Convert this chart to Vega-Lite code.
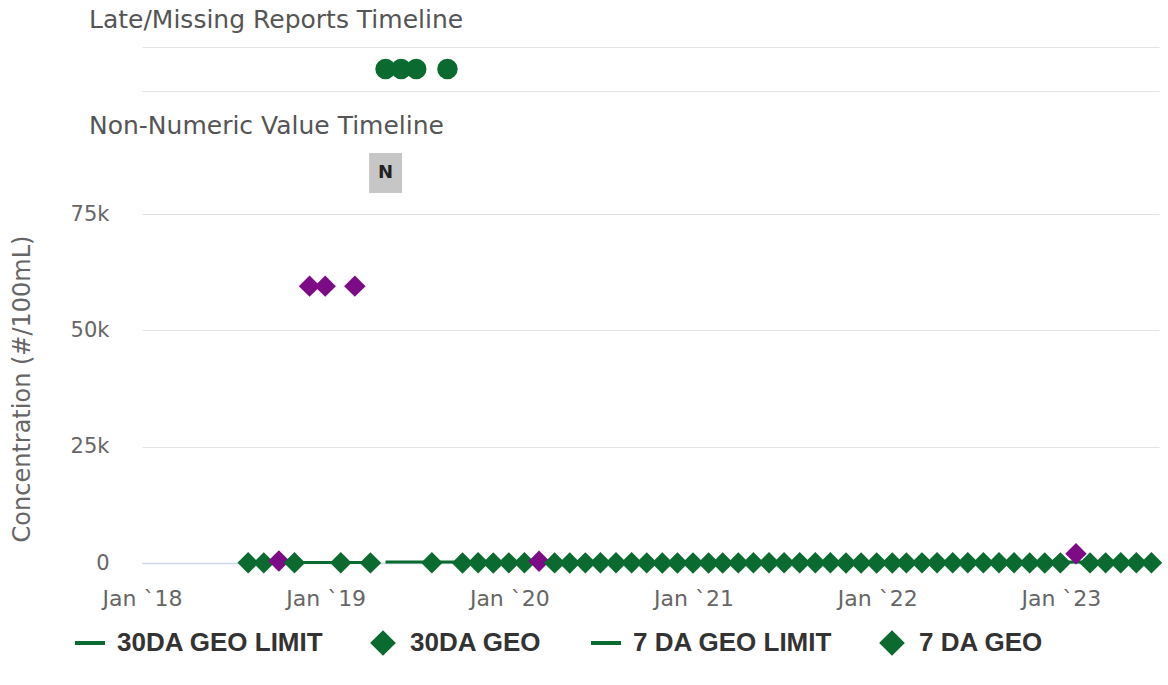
{
  "$schema": "https://vega.github.io/schema/vega-lite/v6.json",
  "padding": {"left": 10, "top": 8, "right": 5, "bottom": 5},
  "background": "white",
  "config": {
    "view": {"stroke": null},
    "font": "DejaVu Sans",
    "title": {"fontSize": 25, "fontWeight": "normal", "color": "#555555", "anchor": "start", "frame": "group", "dx": -53, "offset": 14}
  },
  "datasets": {
    "late": [
      {"date": "2019-04-30", "timeline": "Late/Missing"},
      {"date": "2019-05-31", "timeline": "Late/Missing"},
      {"date": "2019-06-30", "timeline": "Late/Missing"},
      {"date": "2019-08-31", "timeline": "Late/Missing"}
    ],
    "nonnum": [
      {"date": "2019-04-30", "timeline": "Non-Numeric", "code": "N"}
    ],
    "main": [
      {"date": "2018-07-31", "series": "30DA GEO LIMIT", "value": 126},
      {"date": "2018-08-31", "series": "30DA GEO LIMIT", "value": 126},
      {"date": "2018-09-30", "series": "30DA GEO LIMIT", "value": 126},
      {"date": "2018-10-31", "series": "30DA GEO LIMIT", "value": 126},
      {"date": "2018-11-30", "series": "30DA GEO LIMIT", "value": 126},
      {"date": "2018-12-31", "series": "30DA GEO LIMIT", "value": 126},
      {"date": "2019-01-31", "series": "30DA GEO LIMIT", "value": 126},
      {"date": "2019-02-28", "series": "30DA GEO LIMIT", "value": 126},
      {"date": "2019-03-31", "series": "30DA GEO LIMIT", "value": 126},
      {"date": "2019-04-30", "series": "7 DA GEO LIMIT", "value": 235},
      {"date": "2019-05-31", "series": "7 DA GEO LIMIT", "value": 235},
      {"date": "2019-06-30", "series": "7 DA GEO LIMIT", "value": 235},
      {"date": "2019-07-31", "series": "7 DA GEO LIMIT", "value": 235},
      {"date": "2019-08-31", "series": "7 DA GEO LIMIT", "value": 235},
      {"date": "2019-09-30", "series": "7 DA GEO LIMIT", "value": 235},
      {"date": "2019-12-31", "series": "7 DA GEO LIMIT", "value": 235},
      {"date": "2020-06-30", "series": "7 DA GEO LIMIT", "value": 235},
      {"date": "2020-12-31", "series": "7 DA GEO LIMIT", "value": 235},
      {"date": "2021-06-30", "series": "7 DA GEO LIMIT", "value": 235},
      {"date": "2021-12-31", "series": "7 DA GEO LIMIT", "value": 235},
      {"date": "2022-06-30", "series": "7 DA GEO LIMIT", "value": 235},
      {"date": "2022-12-31", "series": "7 DA GEO LIMIT", "value": 235},
      {"date": "2023-06-30", "series": "7 DA GEO LIMIT", "value": 235},
      {"date": "2018-07-31", "series": "30DA GEO", "value": 45, "exceed": false},
      {"date": "2018-08-31", "series": "30DA GEO", "value": 30, "exceed": false},
      {"date": "2018-09-30", "series": "30DA GEO", "value": 410, "exceed": true},
      {"date": "2018-10-31", "series": "30DA GEO", "value": 60, "exceed": false},
      {"date": "2018-11-30", "series": "30DA GEO", "value": 59500, "exceed": true},
      {"date": "2018-12-31", "series": "30DA GEO", "value": 59500, "exceed": true},
      {"date": "2019-01-31", "series": "30DA GEO", "value": 40, "exceed": false},
      {"date": "2019-02-28", "series": "30DA GEO", "value": 59500, "exceed": true},
      {"date": "2019-03-31", "series": "30DA GEO", "value": 25, "exceed": false},
      {"date": "2019-07-31", "series": "7 DA GEO", "value": 50, "exceed": false},
      {"date": "2019-09-30", "series": "7 DA GEO", "value": 20, "exceed": false},
      {"date": "2019-10-31", "series": "7 DA GEO", "value": 35, "exceed": false},
      {"date": "2019-11-30", "series": "7 DA GEO", "value": 15, "exceed": false},
      {"date": "2019-12-31", "series": "7 DA GEO", "value": 28, "exceed": false},
      {"date": "2020-01-31", "series": "7 DA GEO", "value": 40, "exceed": false},
      {"date": "2020-02-29", "series": "7 DA GEO", "value": 380, "exceed": true},
      {"date": "2020-03-31", "series": "7 DA GEO", "value": 22, "exceed": false},
      {"date": "2020-04-30", "series": "7 DA GEO", "value": 18, "exceed": false},
      {"date": "2020-05-31", "series": "7 DA GEO", "value": 30, "exceed": false},
      {"date": "2020-06-30", "series": "7 DA GEO", "value": 55, "exceed": false},
      {"date": "2020-07-31", "series": "7 DA GEO", "value": 60, "exceed": false},
      {"date": "2020-08-31", "series": "7 DA GEO", "value": 42, "exceed": false},
      {"date": "2020-09-30", "series": "7 DA GEO", "value": 25, "exceed": false},
      {"date": "2020-10-31", "series": "7 DA GEO", "value": 12, "exceed": false},
      {"date": "2020-11-30", "series": "7 DA GEO", "value": 10, "exceed": false},
      {"date": "2020-12-31", "series": "7 DA GEO", "value": 14, "exceed": false},
      {"date": "2021-01-31", "series": "7 DA GEO", "value": 20, "exceed": false},
      {"date": "2021-02-28", "series": "7 DA GEO", "value": 16, "exceed": false},
      {"date": "2021-03-31", "series": "7 DA GEO", "value": 24, "exceed": false},
      {"date": "2021-04-30", "series": "7 DA GEO", "value": 33, "exceed": false},
      {"date": "2021-05-31", "series": "7 DA GEO", "value": 48, "exceed": false},
      {"date": "2021-06-30", "series": "7 DA GEO", "value": 70, "exceed": false},
      {"date": "2021-07-31", "series": "7 DA GEO", "value": 65, "exceed": false},
      {"date": "2021-08-31", "series": "7 DA GEO", "value": 52, "exceed": false},
      {"date": "2021-09-30", "series": "7 DA GEO", "value": 38, "exceed": false},
      {"date": "2021-10-31", "series": "7 DA GEO", "value": 20, "exceed": false},
      {"date": "2021-11-30", "series": "7 DA GEO", "value": 15, "exceed": false},
      {"date": "2021-12-31", "series": "7 DA GEO", "value": 11, "exceed": false},
      {"date": "2022-01-31", "series": "7 DA GEO", "value": 18, "exceed": false},
      {"date": "2022-02-28", "series": "7 DA GEO", "value": 22, "exceed": false},
      {"date": "2022-03-31", "series": "7 DA GEO", "value": 27, "exceed": false},
      {"date": "2022-04-30", "series": "7 DA GEO", "value": 35, "exceed": false},
      {"date": "2022-05-31", "series": "7 DA GEO", "value": 44, "exceed": false},
      {"date": "2022-06-30", "series": "7 DA GEO", "value": 62, "exceed": false},
      {"date": "2022-07-31", "series": "7 DA GEO", "value": 75, "exceed": false},
      {"date": "2022-08-31", "series": "7 DA GEO", "value": 58, "exceed": false},
      {"date": "2022-09-30", "series": "7 DA GEO", "value": 40, "exceed": false},
      {"date": "2022-10-31", "series": "7 DA GEO", "value": 26, "exceed": false},
      {"date": "2022-11-30", "series": "7 DA GEO", "value": 19, "exceed": false},
      {"date": "2022-12-31", "series": "7 DA GEO", "value": 30, "exceed": false},
      {"date": "2023-01-31", "series": "7 DA GEO", "value": 2000, "exceed": true},
      {"date": "2023-02-28", "series": "7 DA GEO", "value": 24, "exceed": false},
      {"date": "2023-03-31", "series": "7 DA GEO", "value": 31, "exceed": false},
      {"date": "2023-04-30", "series": "7 DA GEO", "value": 46, "exceed": false},
      {"date": "2023-05-31", "series": "7 DA GEO", "value": 57, "exceed": false},
      {"date": "2023-06-30", "series": "7 DA GEO", "value": 68, "exceed": false}
    ]
  },
  "bounds": "flush",
  "spacing": 21,
  "vconcat": [
    {
      "width": 1017,
      "height": 85,
      "title": {"text": "Late/Missing Reports Timeline"},
      "data": {"name": "late"},
      "mark": {"type": "point", "shape": "circle", "filled": true, "size": 420, "color": "#0a6a30", "opacity": 1},
      "encoding": {
        "x": {"field": "date", "type": "temporal", "scale": {"domain": [{"year": 2018, "month": 1, "date": 1}, {"year": 2023, "month": 7, "date": 15}]}, "axis": null},
        "y": {"field": "timeline", "type": "nominal", "scale": {"type": "band", "paddingInner": 0, "paddingOuter": 0.466, "align": 0},
              "axis": {"title": null, "labels": false, "ticks": false, "domain": false, "grid": true, "tickBand": "extent", "gridColor": "#e3e3e3", "gridWidth": 1.2}}
      }
    },
    {
      "width": 1017,
      "height": 40,
      "title": {"text": "Non-Numeric Value Timeline"},
      "data": {"name": "nonnum"},
      "encoding": {
        "x": {"field": "date", "type": "temporal", "scale": {"domain": [{"year": 2018, "month": 1, "date": 1}, {"year": 2023, "month": 7, "date": 15}]}, "axis": null},
        "y": {"field": "timeline", "type": "nominal", "scale": {"type": "band", "paddingInner": 0, "paddingOuter": 0}, "axis": null}
      },
      "layer": [
        {"mark": {"type": "point", "shape": "M-0.825,-1H0.825V1H-0.825Z", "filled": true, "size": 1600, "color": "#c6c6c6", "opacity": 1}},
        {"mark": {"type": "text", "fontSize": 18, "fontWeight": "bold", "color": "#222222"}, "encoding": {"text": {"field": "code", "type": "nominal"}}}
      ]
    },
    {
      "width": 1017,
      "height": 349,
      "data": {"name": "main"},
      "encoding": {
        "x": {"field": "date", "type": "temporal",
              "scale": {"domain": [{"year": 2018, "month": 1, "date": 1}, {"year": 2023, "month": 7, "date": 15}]},
              "axis": {"title": null, "values": [{"year": 2018, "month": 1, "date": 1}, {"year": 2019, "month": 1, "date": 1}, {"year": 2020, "month": 1, "date": 1}, {"year": 2021, "month": 1, "date": 1}, {"year": 2022, "month": 1, "date": 1}, {"year": 2023, "month": 1, "date": 1}],
                       "format": "%b `%y", "labelFontSize": 22, "labelColor": "#666666", "labelPadding": 25, "labelFlush": false,
                       "ticks": false, "domain": true, "domainColor": "#ccd6eb", "domainWidth": 1.5, "grid": false}},
        "y": {"field": "value", "type": "quantitative", "scale": {"domain": [0, 75000], "nice": false},
              "axis": {"title": "Concentration (#/100mL)", "values": [0, 25000, 50000, 75000],
                       "labelExpr": "datum.value === 0 ? '0' : (datum.value / 1000) + 'k'",
                       "labelFontSize": 21, "labelColor": "#666666", "labelPadding": 33,
                       "titleFontSize": 24, "titleColor": "#666666", "titleFontWeight": "normal", "titlePadding": 36,
                       "ticks": false, "domain": false, "grid": true, "gridColor": "#e3e3e3", "gridWidth": 1.2}}
      },
      "layer": [
        {
          "transform": [{"filter": "indexof(datum.series, 'LIMIT') >= 0"}],
          "mark": {"type": "line", "strokeWidth": 3, "color": "#0a6a30"},
          "encoding": {"detail": {"field": "series", "type": "nominal"}}
        },
        {
          "transform": [{"filter": "indexof(datum.series, 'LIMIT') < 0"}],
          "mark": {"type": "point", "filled": true, "size": 460, "opacity": 1},
          "encoding": {
            "color": {"condition": {"test": "datum.exceed", "value": "#7d0b86"}, "field": "series", "type": "nominal",
                      "scale": {"domain": ["30DA GEO LIMIT", "30DA GEO", "7 DA GEO LIMIT", "7 DA GEO"], "range": ["#0a6a30", "#0a6a30", "#0a6a30", "#0a6a30"]},
                      "legend": {"orient": "none", "legendX": -65, "legendY": 583, "direction": "horizontal", "title": null,
                                 "labelFont": "Liberation Sans", "labelFontSize": 26, "labelFontWeight": "bold", "labelColor": "#333333", "labelLimit": 400,
                                 "symbolSize": 400, "symbolStrokeColor": "#0a6a30", "symbolStrokeWidth": 4, "symbolFillColor": "#0a6a30",
                                 "labelOffset": 14, "columnPadding": 41, "gridAlign": "each"}},
            "shape": {"field": "series", "type": "nominal",
                      "scale": {"domain": ["30DA GEO LIMIT", "30DA GEO", "7 DA GEO LIMIT", "7 DA GEO"], "range": ["M-1.5,0H1.5M0,-1L0,-1M0,1L0,1", "diamond", "M-1.5,0H1.5M0,-1L0,-1M0,1L0,1", "diamond"]},
                      "legend": {"orient": "none", "legendX": -65, "legendY": 583, "direction": "horizontal", "title": null,
                                 "labelFont": "Liberation Sans", "labelFontSize": 26, "labelFontWeight": "bold", "labelColor": "#333333", "labelLimit": 400,
                                 "symbolSize": 400, "symbolStrokeColor": "#0a6a30", "symbolStrokeWidth": 4, "symbolFillColor": "#0a6a30",
                                 "labelOffset": 14, "columnPadding": 41, "gridAlign": "each"}}
          }
        }
      ]
    }
  ]
}
